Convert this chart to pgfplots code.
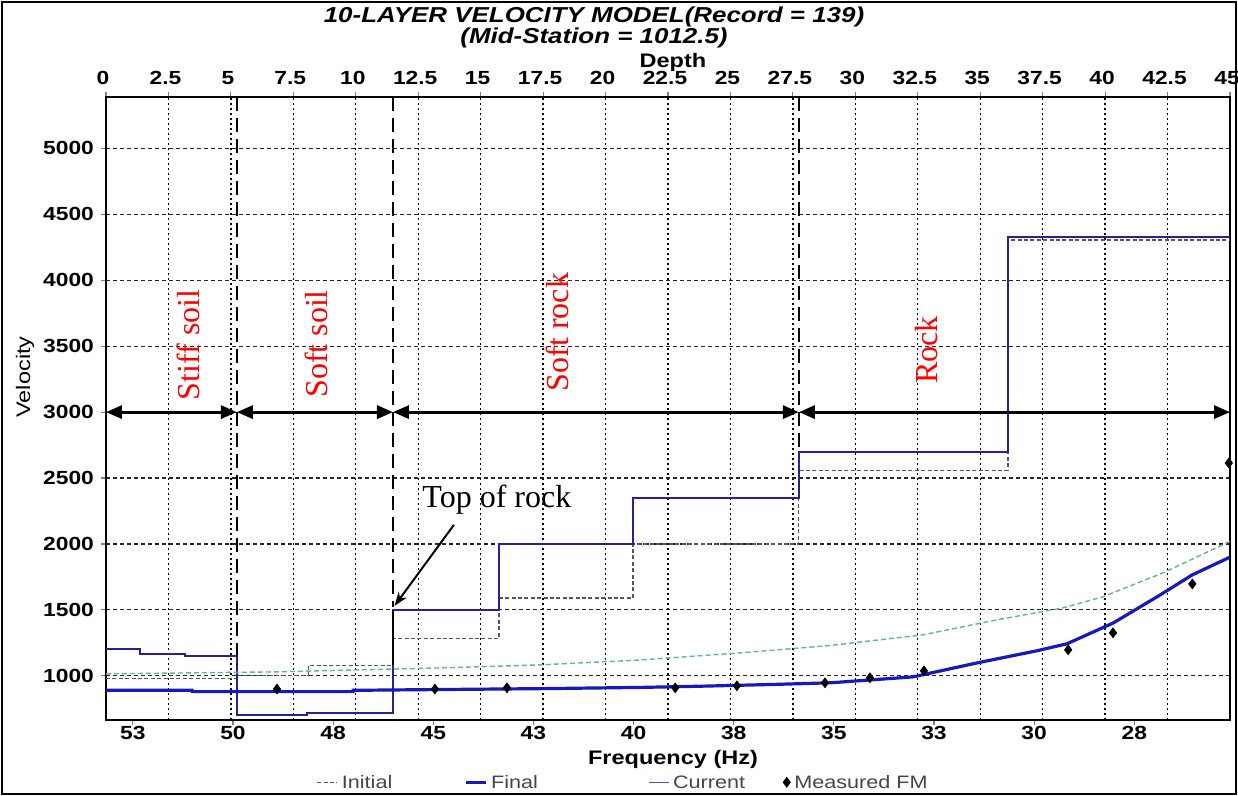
\documentclass[border=0pt]{standalone}
\usepackage{fontspec}
\setmainfont{Liberation Serif}
\newfontfamily\lsans[FakeStretch=1.2]{Liberation Sans}
\usepackage{pgfplots}
\pgfplotsset{compat=1.18}
\usetikzlibrary{arrows.meta}

\definecolor{modelblue}{RGB}{35,35,150}
\definecolor{dispblue}{RGB}{25,25,185}
\definecolor{initgray}{RGB}{85,85,105}
\definecolor{initgreen}{RGB}{110,175,150}
\definecolor{curblue}{RGB}{70,90,160}
\definecolor{legtext}{RGB}{70,70,70}

\newcommand{\tickfont}{\lsans\bfseries\fontsize{9.5}{11}\selectfont}
\newcommand{\labfont}{\lsans\bfseries\fontsize{9.8}{11}\selectfont}

\tikzset{layerarrow/.style={line width=1.6pt,
  {Triangle[length=8pt,width=6.5pt]}-{Triangle[length=8pt,width=6.5pt]}}}

\begin{document}
\begin{tikzpicture}
\useasboundingbox (-53pt,-38pt) rectangle (566pt,360pt);
\draw[line width=0.6pt] (-52pt,-37pt) rectangle (565pt,359pt);

% depth axis: velocity model
\begin{axis}[
  at={(0,0)}, anchor=south west,
  scale only axis, width=562pt, height=311.5pt,
  xmin=0, xmax=45, ymin=665, ymax=5390,
  xtick={0,2.5,...,45}, ytick={1000,1500,...,5000},
  xtick pos=right, xticklabel pos=right, ytick pos=left,
  xticklabel style={xshift=-1.5pt},
  grid=major,
  x grid style={black, line width=0.7pt, dash pattern=on 0.8pt off 1.7pt},
  y grid style={black!85, line width=0.6pt, dash pattern=on 2pt off 1.5pt},
  axis line style={line width=1.3pt},
  tick align=outside, major tick length=2.5pt,
  tick style={gray, line width=0.6pt},
  tick label style={font=\tickfont},
  /pgf/number format/assume math mode=true,
  yticklabel style={/pgf/number format/1000 sep={}},
  scaled y ticks=false,
]
% initial model
\addplot[initgray, line width=0.6pt, dash pattern=on 2pt off 1.2pt] coordinates {
  (0,977) (5.24,977) (5.24,1005) (8.1,1005) (8.1,1078) (11.49,1078)
  (11.49,1285) (15.73,1285) (15.73,1590) (21.1,1590) (21.1,2000)
  (27.74,2000) (27.74,2560) (36.11,2560) (36.11,4305) (45,4305)};
% final model
\addplot[modelblue, line width=1pt] coordinates {
  (0,1205) (1.36,1205) (1.36,1167) (3.16,1167) (3.16,1152) (5.24,1152)
  (5.24,705) (8.05,705) (8.05,720) (11.49,720) (11.49,1500) (15.73,1500)
  (15.73,2000) (21.1,2000) (21.1,2350) (27.74,2350) (27.74,2700)
  (36.11,2700) (36.11,4325) (45,4325)};
% layer boundaries
\draw[black, line width=1.2pt, dash pattern=on 7pt off 3.5pt] (5.24,5390) -- (5.24,1080);
\draw[black, line width=1.2pt, dash pattern=on 7pt off 3.5pt] (11.49,5390) -- (11.49,1520);
\draw[black, line width=1.2pt] (11.49,1500) -- (11.49,1080);
\draw[black, line width=1.2pt, dash pattern=on 7pt off 3.5pt] (27.74,5390) -- (27.74,2720);
% layer extents
\draw[layerarrow] (0,3000) -- (5.24,3000);
\draw[layerarrow] (5.24,3000) -- (11.49,3000);
\draw[layerarrow] (11.49,3000) -- (27.74,3000);
\draw[layerarrow] (27.74,3000) -- (45,3000);
\node[rotate=90, text=red, font=\fontsize{16}{18}\selectfont] at (3.28,3509) {Stiff soil};
\node[rotate=90, text=red, font=\fontsize{16}{18}\selectfont] at (8.41,3517) {Soft soil};
\node[rotate=90, text=red, font=\fontsize{16}{18}\selectfont] at (18.09,3608) {Soft rock};
\node[rotate=90, text=red, font=\fontsize{16}{18}\selectfont] at (32.87,3471) {Rock};
\node[font=\fontsize{16}{18}\selectfont] at (15.65,2334) {Top of rock};
\draw[line width=1pt, -{Stealth[length=7pt,width=5pt]}] (13.93,2145) -- (11.55,1530);
\end{axis}

% frequency axis: dispersion curves
\begin{axis}[
  at={(0,0)}, anchor=south west,
  scale only axis, width=562pt, height=311.5pt,
  x dir=reverse, xmin=25.11, xmax=53.17, ymin=665, ymax=5390,
  axis x line*=bottom, hide y axis,
  xtick={52.5,50,47.5,45,42.5,40,37.5,35,32.5,30,27.5},
  xticklabels={53,50,48,45,43,40,38,35,33,30,28},
  xticklabel style={yshift=3pt},
  axis line style={line width=1.3pt},
  tick align=outside, major tick length=2.5pt,
  tick style={gray, line width=0.6pt},
  tick label style={font=\tickfont},
  legend columns=4,
  legend style={draw=none, fill=none, at={(0.461,-0.1)}, anchor=center,
    font=\lsans\fontsize{9}{10}\selectfont, text=legtext,
    nodes={text height=6.6pt, text depth=0.5pt},
    /tikz/column 2/.append style={column sep=34pt},
    /tikz/column 4/.append style={column sep=53pt},
    /tikz/column 6/.append style={column sep=17pt}},
  legend image code/.code={\draw[#1] (0pt,0pt) -- (10pt,0pt);},
]
\addplot[initgreen, line width=0.7pt, dash pattern=on 2.5pt off 1.5pt, forget plot] coordinates {
  (53.17,1015) (48.9,1030) (44.83,1060) (42.33,1083) (39.84,1120)
  (37.34,1174) (35.09,1230) (32.77,1311) (30.92,1425) (29.28,1515)
  (28.28,1600) (26.78,1781) (25.11,2020)};
\addplot[dispblue, line width=1.6pt, forget plot] coordinates {
  (53.17,890) (51.02,890) (51.02,880) (47.0,880) (47.0,890) (44.83,896)
  (42.21,903) (39.84,912) (38.21,922) (36.47,935) (35.09,947) (33.02,992)
  (31.47,1095) (29.93,1190) (29.18,1243) (28.03,1400) (26.85,1614)
  (26.05,1766) (25.11,1900)};
\addplot[only marks, mark=diamond*, mark size=2.4pt, black, forget plot] coordinates {
  (48.90,900) (44.96,900) (43.16,909) (38.96,909) (37.42,924) (35.22,947)
  (34.10,985) (32.75,1038) (29.15,1197) (28.03,1326) (26.05,1697)
  (25.14,2614)};
\addlegendimage{initgray, line width=0.6pt, dash pattern=on 2pt off 1.2pt}
\addlegendentry{Initial}
\addlegendimage{dispblue, line width=1.4pt}
\addlegendentry{Final}
\addlegendimage{curblue, line width=0.6pt}
\addlegendentry{Current}
\addlegendimage{black, legend image code/.code={
  \path plot[mark=diamond*, mark size=2.4pt, mark options={black}] coordinates {(5pt,0pt)};}}
\addlegendentry{Measured FM}
\end{axis}

\node[font=\lsans\bfseries\itshape\fontsize{10.8}{12}\selectfont] at (244pt,351.5pt)
  {10-LAYER VELOCITY MODEL(Record = 139)};
\node[font=\lsans\bfseries\itshape\fontsize{10.8}{12}\selectfont] at (244pt,341pt)
  {(Mid-Station = 1012.5)};
\node[font=\labfont] at (283.5pt,329pt) {Depth};
\node[font=\labfont] at (283.5pt,-19.5pt) {Frequency (Hz)};
\node[rotate=90, font=\lsans\fontsize{9.8}{11}\selectfont] at (-40.5pt,171.5pt) {Velocity};
\end{tikzpicture}
\end{document}
